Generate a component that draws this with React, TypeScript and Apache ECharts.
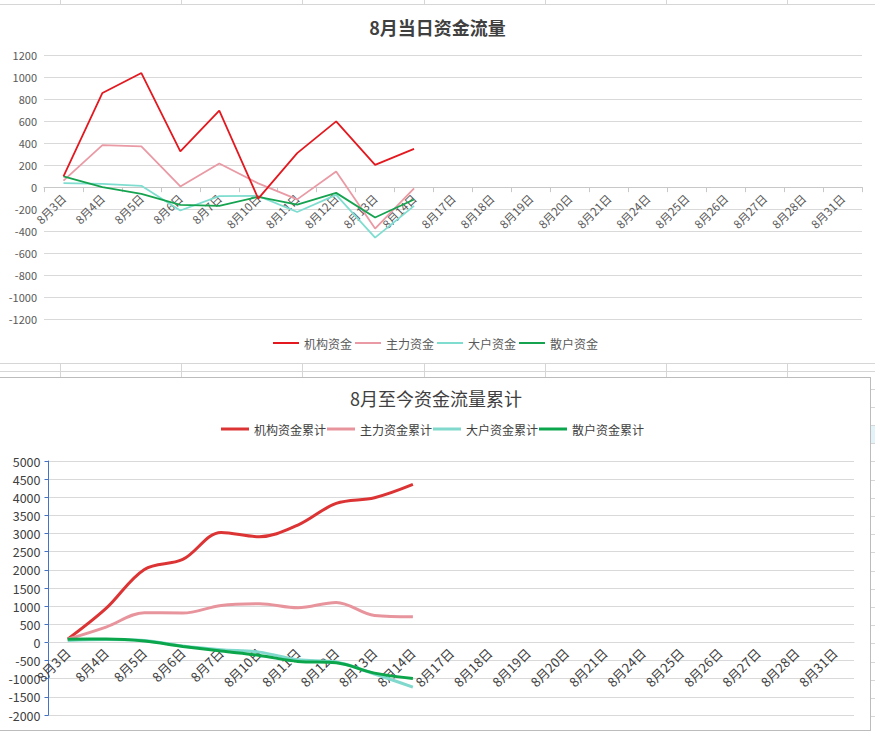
import React, { useEffect, useRef } from "react";
import * as echarts from "echarts";

const categories = [
  "8月3日", "8月4日", "8月5日", "8月6日", "8月7日", "8月10日", "8月11日", "8月12日", "8月13日", "8月14日",
  "8月17日", "8月18日", "8月19日", "8月20日", "8月21日", "8月24日", "8月25日", "8月26日", "8月27日", "8月28日", "8月31日",
];

const dailyNames = ["机构资金", "主力资金", "大户资金", "散户资金"];
const jigou = [97, 855, 1036, 324, 694, -104, 309, 597, 203, 348];
const zhuli = [60, 382, 370, 6, 215, 34, -111, 142, -376, -12];
const dahu = [36, 30, 12, -212, -82, -79, -226, -70, -458, -170];
const sanhu = [97, 0, -61, -161, -170, -88, -158, -52, -276, -112];

const cumNames = ["机构资金累计", "主力资金累计", "大户资金累计", "散户资金累计"];
const jigouCum = [90, 937, 2012, 2287, 3031, 2912, 3234, 3830, 3987, 4354];
const zhuliCum = [88, 423, 818, 809, 1020, 1066, 956, 1103, 744, 708];
const dahuCum = [55, 83, 55, -101, -202, -267, -478, -542, -870, -1232];
const sanhuCum = [88, 92, 37, -110, -239, -358, -524, -560, -846, -993];

const dailyColors = ["#E3191F", "#E99AA5", "#7FDDD0", "#15A350"];
const cumColors = ["#DC3434", "#E8949D", "#80D9CC", "#0BA64C"];

const FONT = "'Noto Sans CJK SC', 'Noto Sans', sans-serif";

// layout of the two plots (pixels)
const TOP_GRID = { left: 44, right: 13, top: 55, height: 264.3 };
const BOT_GRID = { left: 48.5, right: 21, top: 461, height: 254 };
const TOP_RANGE = { min: -1200, max: 1200, interval: 200 };
const BOT_RANGE = { min: -2000, max: 5000, interval: 500 };

function zeroOffset(g: { height: number }, r: { min: number; max: number }) {
  // distance from the grid bottom up to the value 0
  return -(g.height * (0 - r.min)) / (r.max - r.min);
}

export default function App() {
  const ref = useRef<HTMLDivElement>(null);
  useEffect(() => {
    document.body.style.margin = "0";
    const chart = echarts.init(ref.current!, null, { renderer: "svg", width: 875, height: 732 });
    const dailyData = [jigou, zhuli, dahu, sanhu];
    const cumData = [jigouCum, zhuliCum, dahuCum, sanhuCum];
    const plain = (v: number) => String(v);
    const option: any = {
      animation: false,
      textStyle: { fontFamily: FONT },
      title: [
        {
          text: "8月当日资金流量",
          left: "center",
          top: 13,
          textStyle: { fontFamily: FONT, fontSize: 18, fontWeight: "bold", color: "#404040" },
        },
        {
          text: "8月至今资金流量累计",
          left: 345,
          top: 384,
          textStyle: { fontFamily: FONT, fontSize: 18, fontWeight: "normal", color: "#404040" },
        },
      ],
      legend: [
        {
          data: dailyNames.map((n) => ({ name: n, icon: "rect" })),
          left: 273,
          top: 337,
          padding: 0,
          itemWidth: 26,
          itemHeight: 2,
          itemGap: 3,
          selectedMode: false,
          textStyle: { fontFamily: FONT, fontSize: 12, color: "#595959" },
        },
        {
          data: cumNames.map((n) => ({ name: n, icon: "rect" })),
          left: 221,
          top: 423,
          padding: 0,
          itemWidth: 28,
          itemHeight: 3,
          itemGap: 1,
          selectedMode: false,
          textStyle: { fontFamily: FONT, fontSize: 12, color: "#404040" },
        },
      ],
      grid: [
        { ...TOP_GRID, outerBoundsMode: "none" },
        { ...BOT_GRID, outerBoundsMode: "none" },
      ],
      xAxis: [
        {
          gridIndex: 0,
          type: "category",
          data: categories,
          boundaryGap: true,
          position: "bottom",
          offset: zeroOffset(TOP_GRID, TOP_RANGE),
          axisLine: { show: true, onZero: false, lineStyle: { color: "#c8c8c8", width: 1 } },
          axisTick: { show: true, length: 5, lineStyle: { color: "#c8c8c8" } },
          axisLabel: { rotate: 45, interval: 0, fontSize: 11.5, color: "#595959", margin: 9, fontFamily: FONT },
          splitLine: { show: false },
        },
        {
          gridIndex: 1,
          type: "category",
          data: categories,
          boundaryGap: true,
          position: "bottom",
          offset: zeroOffset(BOT_GRID, BOT_RANGE),
          axisLine: { show: true, onZero: false, lineStyle: { color: "#d9d9d9", width: 1 } },
          axisTick: { show: false },
          axisLabel: { rotate: 45, interval: 0, fontSize: 13, color: "#404040", margin: 8, fontFamily: FONT },
          splitLine: { show: false },
        },
      ],
      yAxis: [
        {
          gridIndex: 0,
          type: "value",
          ...TOP_RANGE,
          axisLine: { show: false },
          axisTick: { show: false },
          axisLabel: { fontSize: 11, color: "#595959", margin: 7, fontFamily: FONT, formatter: plain },
          splitLine: { lineStyle: { color: "#d9d9d9" } },
        },
        {
          gridIndex: 1,
          type: "value",
          ...BOT_RANGE,
          axisLine: { show: true, lineStyle: { color: "#4472C4", width: 1 } },
          axisTick: { show: true, length: 4, lineStyle: { color: "#4472C4" } },
          axisLabel: { fontSize: 12.5, color: "#404040", margin: 8, fontFamily: FONT, formatter: plain },
          splitLine: { lineStyle: { color: "#d9d9d9" } },
        },
      ],
      series: [
        ...dailyNames.map((n, i) => ({
          name: n,
          type: "line",
          xAxisIndex: 0,
          yAxisIndex: 0,
          data: dailyData[i],
          symbol: "none",
          color: dailyColors[i],
          itemStyle: { color: dailyColors[i] },
          lineStyle: { width: 1.8, color: dailyColors[i] },
          z: 3 + (i === 0 ? 1 : 0),
        })),
        ...cumNames.map((n, i) => ({
          name: n,
          type: "line",
          xAxisIndex: 1,
          yAxisIndex: 1,
          data: cumData[i],
          symbol: "none",
          smooth: 0.35,
          color: cumColors[i],
          itemStyle: { color: cumColors[i] },
          lineStyle: { width: 3, color: cumColors[i] },
          z: i === 2 ? 3 : 4,
        })),
      ],
    };
    chart.setOption(option);
    return () => chart.dispose();
  }, []);

  const cellX = [60, 181, 302, 424, 545, 666, 787];
  const gridColor = "#d6d6d6";
  const rightRows: number[] = [];
  for (let y = 388.5; y < 730; y += 18.2) rightRows.push(y);

  return (
    <div style={{ position: "absolute", left: 0, top: 0, width: 875, height: 732, background: "#fff", overflow: "hidden" }}>
      <div style={{ position: "absolute", left: 0, top: 4, width: 875, height: 1, background: gridColor }} />
      {cellX.map((x) => (
        <div key={"t" + x} style={{ position: "absolute", left: x, top: 0, width: 1, height: 4, background: gridColor }} />
      ))}
      <div style={{ position: "absolute", left: 0, top: 363, width: 875, height: 1, background: gridColor }} />
      <div style={{ position: "absolute", left: 0, top: 371, width: 875, height: 1, background: gridColor }} />
      {cellX.map((x) => (
        <div key={"m" + x} style={{ position: "absolute", left: x, top: 363, width: 1, height: 14, background: gridColor }} />
      ))}
      <div style={{ position: "absolute", left: 870, top: 425, width: 5, height: 18, background: "#e3f4f8" }} />
      {rightRows.map((y) => (
        <div key={"r" + y} style={{ position: "absolute", left: 870, top: y, width: 5, height: 1, background: gridColor }} />
      ))}
      <div
        style={{
          position: "absolute",
          left: -1,
          top: 377,
          width: 870,
          height: 352,
          background: "#fff",
          border: "1px solid #bcbcbc",
        }}
      />
      <div ref={ref} style={{ position: "absolute", left: 0, top: 0, width: 875, height: 732 }} />
    </div>
  );
}
